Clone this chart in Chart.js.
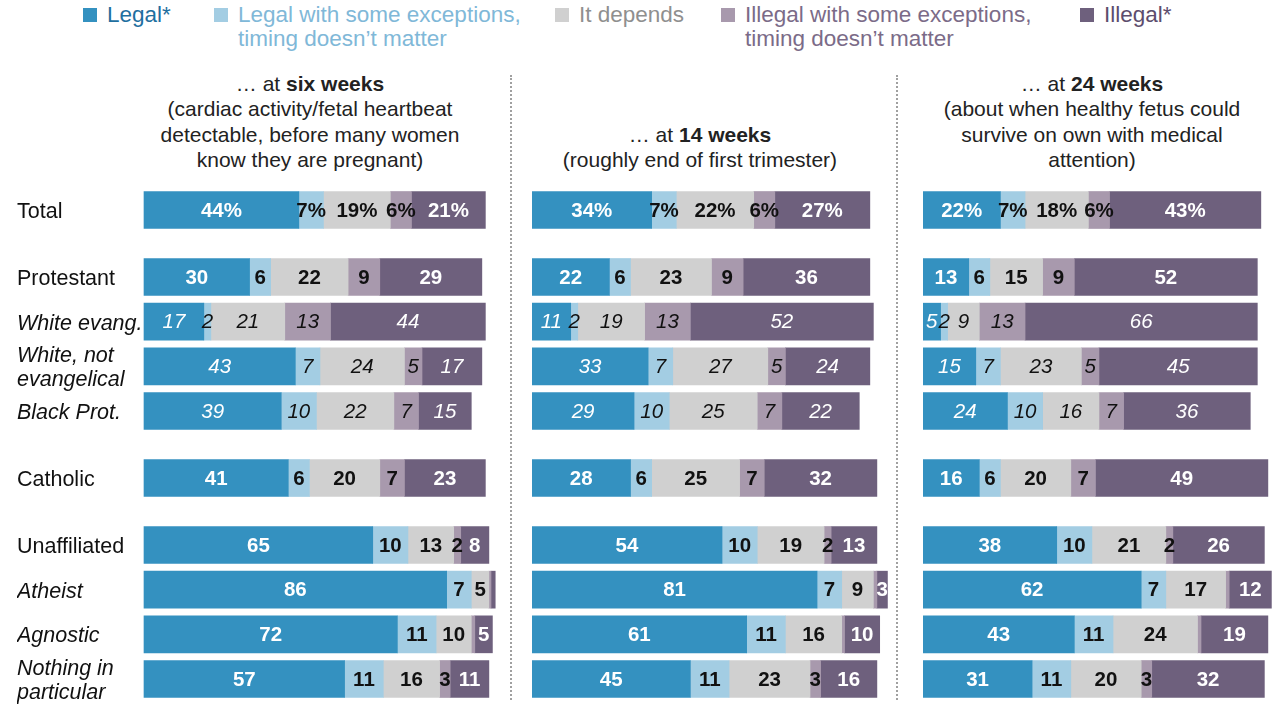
<!DOCTYPE html>
<html>
<head>
<meta charset="utf-8">
<script src="https://cdn.jsdelivr.net/npm/chart.js@4.4.0/dist/chart.umd.min.js"></script>
<style>
  body { margin:0; width:1279px; height:710px; overflow:hidden; background:#fff; position:relative;
         font-family:"Liberation Sans", Arial, sans-serif; }
  .legend-item { position:absolute; top:3px; font-size:22.5px; line-height:24px; white-space:nowrap; }
  .legend-item .sw { position:absolute; left:-24px; top:5px; width:14px; height:14px; }
  .title { position:absolute; width:440px; text-align:center; font-size:21px; line-height:25.4px; color:#222; }
  .sep { position:absolute; top:75px; height:625px; border-left:2px dotted #a0a0a0; }
  canvas { position:absolute; top:180px; }
</style>
</head>
<body>

<div id="legend"></div>

<div class="title" style="left:90px; top:71px;">… at <b>six weeks</b><br>(cardiac activity/fetal heartbeat<br>detectable, before many women<br>know they are pregnant)</div>
<div class="title" style="left:480px; top:122px;">… at <b>14 weeks</b><br>(roughly end of first trimester)</div>
<div class="title" style="left:872px; top:71px;">… at <b>24 weeks</b><br>(about when healthy fetus could<br>survive on own with medical<br>attention)</div>

<div class="sep" style="left:510px;"></div>
<div class="sep" style="left:896px;"></div>

<canvas id="c6" width="510" height="530" style="left:0px;"></canvas>
<canvas id="c14" width="366" height="530" style="left:532px;"></canvas>
<canvas id="c24" width="366" height="530" style="left:923px;"></canvas>

<script>
// ---- data ----
const rows = ['Total', 'Protestant', 'White evang.', 'White, not\nevangelical', 'Black Prot.',
              'Catholic', 'Unaffiliated', 'Atheist', 'Agnostic', 'Nothing in\nparticular'];

const seriesNames = ['Legal*', 'Legal with some exceptions,\ntiming doesn’t matter', 'It depends',
                     'Illegal with some exceptions,\ntiming doesn’t matter', 'Illegal*'];

// six weeks
const legal6      = [44, 30, 17, 43, 39, 41, 65, 86, 72, 57];
const legalExc6   = [ 7,  6,  2,  7, 10,  6, 10,  7, 11, 11];
const depends6    = [19, 22, 21, 24, 22, 20, 13,  5, 10, 16];
const illegalExc6 = [ 6,  9, 13,  5,  7,  7,  2, 0.6, 1,  3];
const illegal6    = [21, 29, 44, 17, 15, 23,  8, 1.2, 5, 11];

// 14 weeks
const legal14      = [34, 22, 11, 33, 29, 28, 54, 81, 61, 45];
const legalExc14   = [ 7,  6,  2,  7, 10,  6, 10,  7, 11, 11];
const depends14    = [22, 23, 19, 27, 25, 25, 19,  9, 16, 23];
const illegalExc14 = [ 6,  9, 13,  5,  7,  7,  2,  1, 0.8, 3];
const illegal14    = [27, 36, 52, 24, 22, 32, 13,  3, 10, 16];

// 24 weeks
const legal24      = [22, 13,  5, 15, 24, 16, 38, 62, 43, 31];
const legalExc24   = [ 7,  6,  2,  7, 10,  6, 10,  7, 11, 11];
const depends24    = [18, 15,  9, 23, 16, 20, 21, 17, 24, 20];
const illegalExc24 = [ 6,  9, 13,  5,  7,  7,  2,  1,  1,  3];
const illegal24    = [43, 52, 66, 45, 36, 49, 26, 12, 19, 32];

// ---- look ----
const seriesColors = ['#3491c0', '#a3cde3', '#d0d0d0', '#a899ad', '#6e607d'];
const legendText   = ['#1f6f9f', '#80b8d8', '#8f8f8f', '#7b6b88', '#5d4d6d'];
const legendX      = [107, 238, 579, 745, 1104];
const FONT = '"Liberation Sans", Arial, sans-serif';

const groupStarts = ['Protestant', 'Catholic', 'Unaffiliated'];
const protSubgroups = ['White evang.', 'White, not\nevangelical', 'Black Prot.'];
const italicRows = protSubgroups.concat(['Atheist', 'Agnostic', 'Nothing in\nparticular']);

// legend
const legendEl = document.getElementById('legend');
seriesNames.forEach((name, k) => {
  const item = document.createElement('div');
  item.className = 'legend-item';
  item.style.left = legendX[k] + 'px';
  item.style.color = legendText[k];
  item.innerHTML = `<span class="sw" style="background:${seriesColors[k]}"></span>` + name.replace('\n', '<br>');
  legendEl.appendChild(item);
});

// category slots: each row takes two slots, a new group adds one more
const slots = [];
rows.forEach((r, i) => {
  if (i > 0) {
    slots.push(null);
    if (groupStarts.includes(r)) slots.push(null);
  }
  slots.push(i);
});
const yLabels = slots.map(s => s === null ? '' : rows[s].split('\n'));

// numbers inside the bars
const valueLabels = {
  id: 'valueLabels',
  afterDatasetsDraw(chart) {
    const ctx = chart.ctx;
    chart.data.datasets.forEach((ds, di) => {
      chart.getDatasetMeta(di).data.forEach((bar, i) => {
        const v = ds.data[i];
        if (v == null || v < 2) return;
        const row = rows[slots[i]];
        ctx.save();
        ctx.font = (protSubgroups.includes(row) ? 'italic 400 ' : '700 ') + '20.5px ' + FONT;
        ctx.fillStyle = (di === 0 || di === 4) ? '#fff' : '#111';
        ctx.textAlign = 'center';
        ctx.textBaseline = 'middle';
        ctx.fillText(row === 'Total' ? v + '%' : String(v), (bar.x + bar.base) / 2, bar.y + 1);
        ctx.restore();
      });
    });
  }
};

function drawPanel(id, series, showRows) {
  const yScale = {
    stacked: true,
    offset: false,
    display: showRows,
    grid: { display: false },
    border: { display: false },
    ticks: {
      autoSkip: false,
      crossAlign: 'far',
      padding: 0,
      labelOffset: 2,
      color: '#111',
      font: c => {
        const r = rows[slots[c.index]];
        return { family: FONT, size: 21.5, lineHeight: 1.1, style: italicRows.includes(r) ? 'italic' : 'normal' };
      }
    }
  };
  if (showRows) yScale.afterFit = scale => { scale.width = 127; };

  new Chart(document.getElementById(id), {
    type: 'bar',
    data: {
      labels: yLabels,
      datasets: series.map((vals, k) => ({
        label: seriesNames[k],
        data: slots.map(s => s === null ? null : vals[s]),
        backgroundColor: seriesColors[k],
        borderWidth: 0,
        barThickness: 37,
        clip: false
      }))
    },
    options: {
      indexAxis: 'y',
      responsive: false,
      animation: false,
      layout: { padding: { left: showRows ? 17 : 0, right: 0, top: 30, bottom: 31 } },
      plugins: { legend: { display: false }, tooltip: { enabled: false } },
      scales: {
        x: { stacked: true, min: 0, max: 104, display: false },
        y: yScale
      }
    },
    plugins: [valueLabels]
  });
}

drawPanel('c6',  [legal6, legalExc6, depends6, illegalExc6, illegal6], true);
drawPanel('c14', [legal14, legalExc14, depends14, illegalExc14, illegal14], false);
drawPanel('c24', [legal24, legalExc24, depends24, illegalExc24, illegal24], false);
</script>
</body>
</html>
